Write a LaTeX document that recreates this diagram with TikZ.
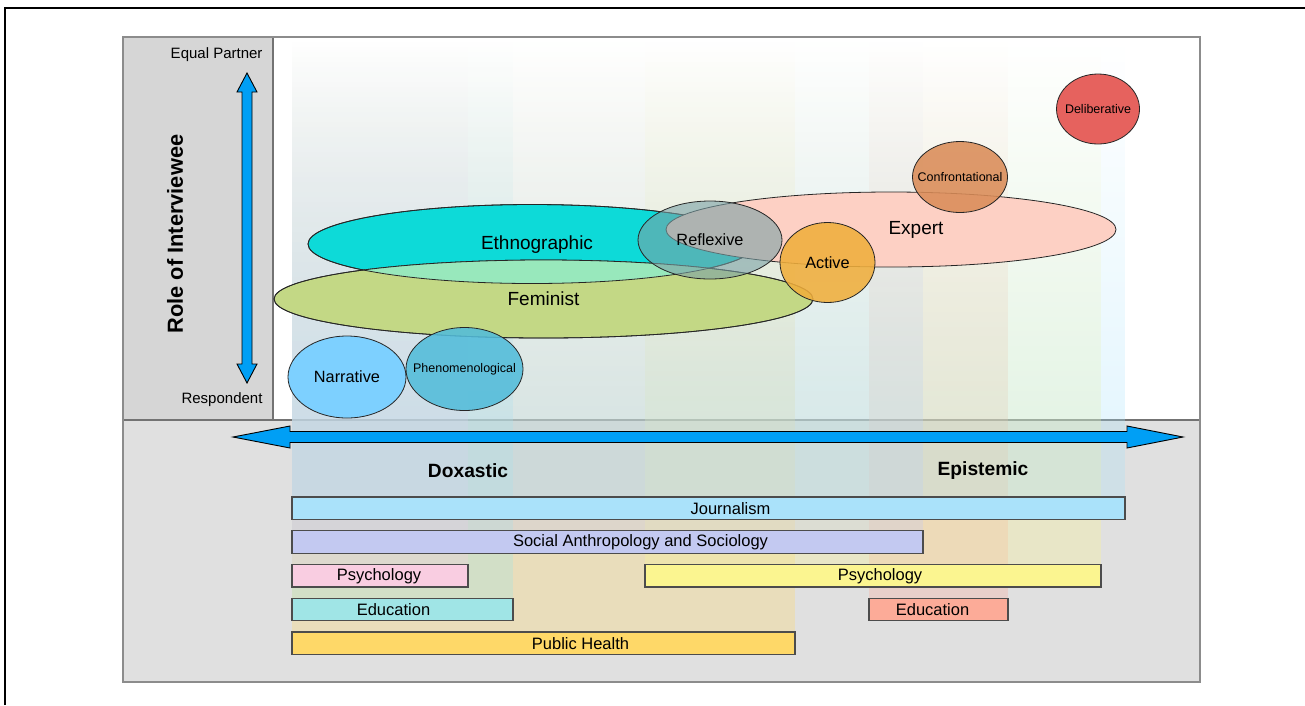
\documentclass[tikz,border=0pt]{standalone}
\usepackage{fontspec}
\setmainfont{Liberation Sans}
\usepackage{xcolor}
\usetikzlibrary{positioning,shapes.geometric,fadings}

\definecolor{panelc}{HTML}{D6D6D6}
\definecolor{lowc}{HTML}{E0E0E0}
\definecolor{axisc}{HTML}{009FF5}
\definecolor{jourc}{HTML}{AAE2FA}
\definecolor{socc}{HTML}{C3C9F1}
\definecolor{psyac}{HTML}{F9CDE1}
\definecolor{psybc}{HTML}{FBF590}
\definecolor{eduac}{HTML}{A0E5E6}
\definecolor{edubc}{HTML}{FCAB98}
\definecolor{phc}{HTML}{FED868}
\definecolor{ethc}{HTML}{0DDAD8}
\definecolor{femc}{HTML}{C3D885}
\definecolor{mintc}{HTML}{98E8BC}
\definecolor{reflc}{HTML}{7AA0A5}
\definecolor{expc}{HTML}{FDD0C4}
\definecolor{actc}{HTML}{F0AE3C}
\definecolor{confc}{HTML}{DA8C58}
\definecolor{delibc}{HTML}{E6625E}
\definecolor{narrc}{HTML}{7DD0FF}
\definecolor{phenc}{HTML}{52BCDA}

\newcommand{\fbig}{\fontsize{19}{21}\selectfont}
\newcommand{\fmid}{\fontsize{16.3}{18}\selectfont}
\newcommand{\fsmall}{\fontsize{12.5}{14}\selectfont}
\newcommand{\fbar}{\fontsize{16.5}{18}\selectfont}

\pgfdeclarelayer{panel}
\pgfdeclarelayer{band}
\pgfsetlayers{panel,band,main}

\tikzfading[name=bandfade, top color=transparent!100, bottom color=transparent!70]

\begin{document}
\begin{tikzpicture}[x=1pt,y=-1pt,node distance=11.25pt,
    method/.style={ellipse, draw=black!85, line width=0.8pt, inner sep=0pt, outer sep=0pt},
    field/.style={draw=black!70, line width=1.1pt, minimum height=22.5pt, inner sep=0pt, outer sep=0pt},
    band/.style={path fading=bandfade},
    axis/.style={fill=axisc, draw=black, line width=0.9pt, line join=miter}]

  \useasboundingbox (0,0) rectangle (1305,705);
  \draw[line width=1.5pt] (5,705) -- (5,8) -- (1305,8);

  \coordinate (T) at (0,40);
  \coordinate (S) at (0,420);

  \begin{pgfonlayer}{panel}
    \fill[panelc] (123,37) rectangle (273,420);
    \fill[lowc] (123,420) rectangle (1200,682);
    \draw[black!55, line width=1.2pt] (273,37) -- (273,420);
    \draw[black!55, line width=1.2pt] (123,420) -- (1200,420);
    \draw[black!45, line width=2pt] (123,37) rectangle (1200,682);
  \end{pgfonlayer}

  % disciplines
  \node(Jour)[field,fill=jourc,minimum width=833pt,anchor=north west,
    label={[font=\fbar,xshift=22pt]center:Journalism}] at (292,497) {};
  \node(Soc)[field,fill=socc,minimum width=631pt,below=of Jour.south west,anchor=north west,
    label={[font=\fbar,xshift=33pt]center:Social Anthropology and Sociology}] {};
  \node(PsyA)[field,fill=psyac,minimum width=176pt,below=of Soc.south west,anchor=north west,
    label={[font=\fbar,xshift=-1pt]center:Psychology}] {};
  \node(PsyB)[field,fill=psybc,minimum width=456pt,right=177pt of PsyA,
    label={[font=\fbar,xshift=7pt]center:Psychology}] {};
  \node(EduA)[field,fill=eduac,minimum width=221pt,below=of PsyA.south west,anchor=north west,
    label={[font=\fbar,xshift=-9pt]center:Education}] {};
  \node(EduB)[field,fill=edubc,minimum width=139pt,right=356pt of EduA,
    label={[font=\fbar,xshift=-6pt]center:Education}] {};
  \node(PH)[field,fill=phc,minimum width=503pt,below=of EduA.south west,anchor=north west,
    label={[font=\fbar,xshift=37pt]center:Public Health}] {};

  \begin{pgfonlayer}{band}
    \fill[phc,band] (PH.west |- T) rectangle (PH.east |- S);
    \fill[phc,opacity=.3] (PH.west |- S) rectangle (PH.north east);
    \fill[edubc,band] (EduB.west |- T) rectangle (EduB.east |- S);
    \fill[edubc,opacity=.3] (EduB.west |- S) rectangle (EduB.north east);
    \fill[eduac,band] (EduA.west |- T) rectangle (EduA.east |- S);
    \fill[eduac,opacity=.3] (EduA.west |- S) rectangle (EduA.north east);
    \fill[psybc,band] (PsyB.west |- T) rectangle (PsyB.east |- S);
    \fill[psybc,opacity=.3] (PsyB.west |- S) rectangle (PsyB.north east);
    \fill[psyac,band] (PsyA.west |- T) rectangle (PsyA.east |- S);
    \fill[psyac,opacity=.3] (PsyA.west |- S) rectangle (PsyA.north east);
    \fill[socc,band] (Soc.west |- T) rectangle (Soc.east |- S);
    \fill[socc,opacity=.3] (Soc.west |- S) rectangle (Soc.north east);
    \fill[jourc,band] (Jour.west |- T) rectangle (Jour.east |- S);
    \fill[jourc,opacity=.3] (Jour.west |- S) rectangle (Jour.north east);
  \end{pgfonlayer}

  % axes
  \node(EP)[anchor=east,font=\fontsize{15}{17}\selectfont] at (266,55) {Equal Partner};
  \node(Resp)[anchor=east,font=\fontsize{15}{17}\selectfont] at (266,400) {Respondent};
  \node(Role)[rotate=90,font=\fontsize{21.8}{24}\selectfont\bfseries] at (175,234) {Role of Interviewee};
  \node(Dox)[font=\fontsize{19.2}{21}\selectfont\bfseries] at (468,471) {Doxastic};
  \node(Epi)[font=\fontsize{19.2}{21}\selectfont\bfseries] at (983,471) {Epistemic};

  \coordinate (VT) at (247,73);
  \coordinate (VB) at (247,383);
  \coordinate (HL) at (233,437);
  \coordinate (HR) at (1183,437);

  \draw[axis] (VT) -- ++(10,19) -- ++(-5,0) -- ++(0,272) -- ++(5,0) -- (VB)
    -- ++(-10,-19) -- ++(5,0) -- ++(0,-272) -- ++(-5,0) -- cycle;
  \draw[axis] (HL) -- ++(57,-11) -- ++(0,5.5) -- ++(837,0) -- ++(0,-5.5) -- (HR)
    -- ++(-56,11) -- ++(0,-5.5) -- ++(-837,0) -- ++(0,5.5) -- cycle;

  % interview types
  \node(Eth)[method,fill=ethc,minimum width=448pt,minimum height=79pt,
    label={[font=\fbig,xshift=5pt,yshift=-1pt]center:Ethnographic}] at (532,244) {};
  \node(Fem)[method,fill=femc,minimum width=539pt,minimum height=78pt,font=\fbig] at (543.5,299) {Feminist};
  \begin{scope}
    \clip (Eth.center) ellipse [x radius=224pt, y radius=39.5pt];
    \fill[mintc] (Fem.center) ellipse [x radius=269.5pt, y radius=39pt];
  \end{scope}
  \draw[black!85,line width=0.8pt] (Eth.center) ellipse [x radius=224pt, y radius=39.5pt];
  \draw[black!85,line width=0.8pt] (Fem.center) ellipse [x radius=269.5pt, y radius=39pt];

  \node(Exp)[method,fill=expc,minimum width=450pt,minimum height=75pt,
    label={[font=\fbig,xshift=25pt]center:Expert}] at (891,229.5) {};
  \node(Refl)[method,fill=reflc,fill opacity=.6,text opacity=1,minimum width=144pt,minimum height=78pt,font=\fmid] at (710,240) {Reflexive};
  \node(Act)[method,fill=actc,fill opacity=.88,text opacity=1,minimum width=95pt,minimum height=80pt,font=\fmid] at (827.5,262.5) {Active};
  \node(Conf)[method,fill=confc,fill opacity=.88,minimum width=95pt,minimum height=71pt,
    label={[font=\fsmall]center:Confrontational}] at (960,177) {};
  \node(Delib)[method,fill=delibc,minimum width=83pt,minimum height=70pt,
    label={[font=\fsmall]center:Deliberative}] at (1098,109) {};
  \node(Narr)[method,fill=narrc,minimum width=118pt,minimum height=82pt,font=\fmid] at (347,377) {Narrative};
  \node(Phen)[method,fill=phenc,fill opacity=.88,minimum width=117pt,minimum height=83pt,
    label={[font=\fsmall]center:Phenomenological}] at (464.5,369) {};
\end{tikzpicture}
\end{document}
